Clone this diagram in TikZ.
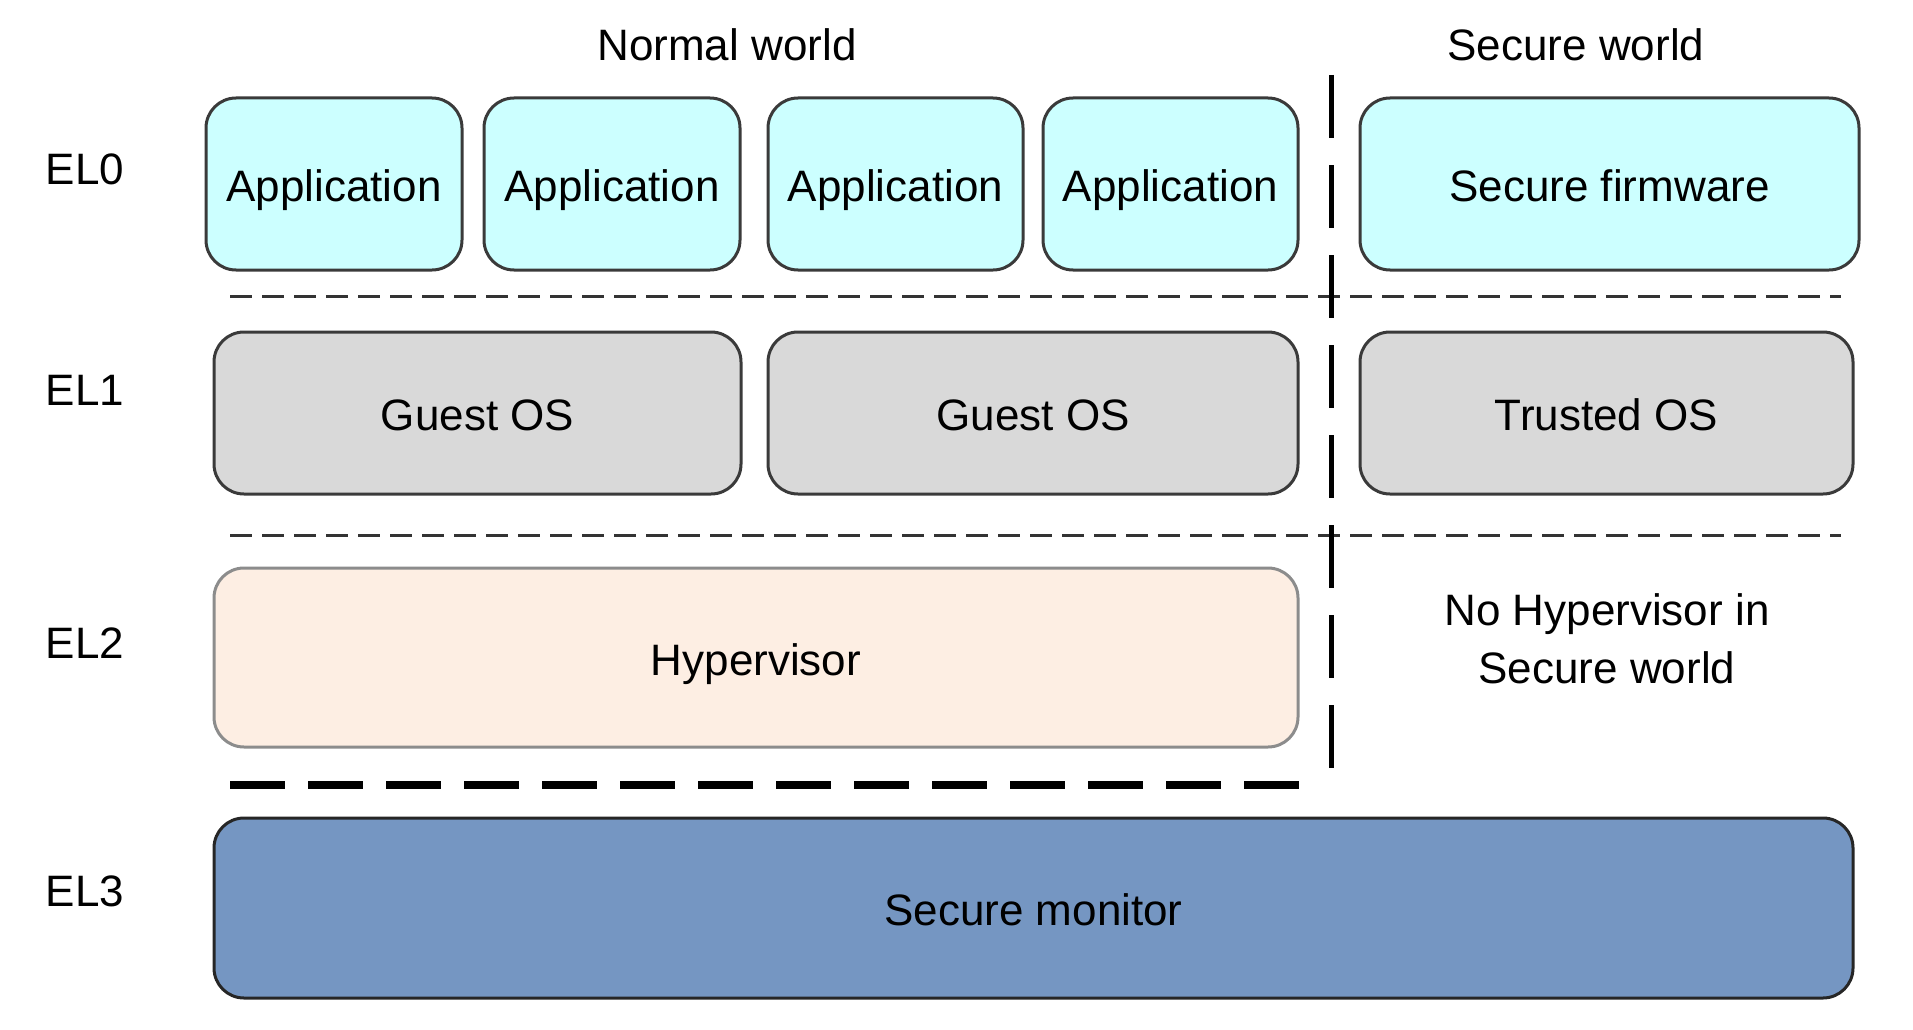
\documentclass[tikz,border=0pt]{standalone}
\usepackage{fontspec}
\setmainfont{Liberation Sans}
\definecolor{appcyan}{HTML}{CCFFFF}
\definecolor{osgray}{HTML}{D9D9D9}
\definecolor{hyppeach}{HTML}{FDEEE3}
\definecolor{monblue}{HTML}{7596C2}
\definecolor{edge}{HTML}{3A3A3A}
\begin{document}
\begin{tikzpicture}[x=1pt,y=-1pt,
  every node/.style={font=\fontsize{44}{58}\selectfont, inner sep=0pt},
  box/.style={draw=edge, line width=3pt, rounded corners=30pt, align=center, text height=44pt, text depth=9pt},
  appbox/.style={box, fill=appcyan, minimum height=172pt},
  osbox/.style={box, fill=osgray, minimum height=162pt},
  thindash/.style={line width=3pt, draw=black!80, dash pattern=on 22pt off 10pt},
  thickdash/.style={line width=8pt, dash pattern=on 55pt off 23pt},
  vdash/.style={line width=5pt, dash pattern=on 63pt off 27pt}]
\useasboundingbox (0,0) rectangle (1913,1030);
% headings
\node (nw) at (727,45) {Normal world};
\node (sw) at (1576,45) {Secure world};
% level labels
\node (el0) at (85,169) {EL0};
\node (el1) at (85,390) {EL1};
\node (el2) at (85,643) {EL2};
\node (el3) at (85,891) {EL3};
% EL0
\node[appbox, minimum width=256pt] (app1) at (334,184) {Application};
\node[appbox, minimum width=256pt] (app2) at (612,184) {Application};
\node[appbox, minimum width=255pt] (app3) at (895.5,184) {Application};
\node[appbox, minimum width=255pt] (app4) at (1170.5,184) {Application};
\node[appbox, minimum width=499pt] (sfw) at (1609.5,184) {Secure firmware};
% EL1
\node[osbox, minimum width=527pt] (gos1) at (477.5,413) {Guest OS};
\node[osbox, minimum width=530pt] (gos2) at (1033,413) {Guest OS};
\node[osbox, minimum width=493pt] (tos) at (1606.5,413) {Trusted OS};
% EL2
\node[box, draw=black!45, fill=hyppeach, minimum width=1084pt, minimum height=179pt] (hyp) at (756,657.5) {Hypervisor};
\node[align=center, font=\fontsize{44}{58}\selectfont] (nohyp) at (1607,639) {No Hypervisor in\\Secure world};
% EL3
\node[box, draw=black!85, fill=monblue, minimum width=1639pt, minimum height=180pt] (mon) at (1033.5,908) {Secure monitor};
% separators
\coordinate (d1a) at (230,296); \coordinate (d1b) at (1841,296);
\coordinate (d2a) at (230,535); \coordinate (d2b) at (1841,535);
\coordinate (d3a) at (230,785); \coordinate (d3b) at (1307,785);
\coordinate (va) at (1331,75); \coordinate (vb) at (1331,770);
\draw[thindash] (d1a) -- (d1b);
\draw[thindash] (d2a) -- (d2b);
\draw[thickdash] (d3a) -- (d3b);
\draw[vdash] (va) -- (vb);
\end{tikzpicture}
\end{document}
